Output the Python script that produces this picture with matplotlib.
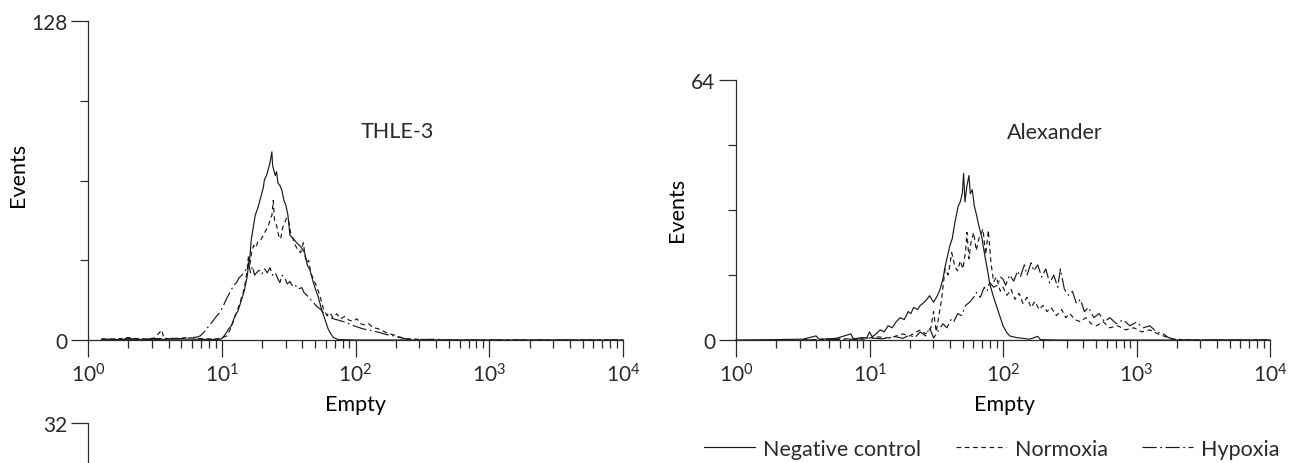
import matplotlib
matplotlib.use("Agg")
import matplotlib.pyplot as plt
import numpy as np

# histogram traces: (log10 of fluorescence, events)
thle_negative = [
    (0.10, 0), (0.30, 0.3), (0.50, 0.2), (0.70, 0.4), (0.90, 0.2), (0.98, 0.3),
    (1.00, 0.5), (1.03, 2.5), (1.05, 4.4), (1.07, 5.5), (1.10, 9.8), (1.12, 11.5),
    (1.15, 16.5), (1.17, 20), (1.19, 25.5), (1.20, 30), (1.21, 33), (1.22, 40),
    (1.235, 45), (1.25, 50), (1.27, 53), (1.29, 57), (1.31, 61), (1.32, 64.5),
    (1.335, 66), (1.35, 69), (1.36, 71), (1.375, 75.5), (1.38, 70), (1.39, 68),
    (1.40, 66), (1.41, 67.5), (1.42, 63), (1.435, 62), (1.45, 60), (1.465, 56),
    (1.48, 54), (1.495, 50), (1.51, 42), (1.53, 41), (1.56, 39), (1.59, 37.5),
    (1.62, 35), (1.64, 30), (1.66, 28), (1.685, 23), (1.70, 20.5), (1.72, 17.5),
    (1.745, 12.5), (1.77, 8.5), (1.795, 4.5), (1.815, 2.5), (1.835, 1.0),
    (1.87, 0.2), (2.0, 0), (4.0, 0),
]
thle_normoxia = [
    (0.10, 0.5), (0.20, 0.2), (0.30, 1.0), (0.40, 0.3), (0.50, 0.8), (0.55, 4.0),
    (0.57, 0.5), (0.65, 0.6), (0.75, 1.0), (0.85, 0.5), (0.95, 0.4), (1.00, 0.8),
    (1.04, 1.7), (1.07, 5), (1.09, 8), (1.11, 11), (1.13, 14), (1.16, 19),
    (1.18, 24), (1.19, 28), (1.20, 34), (1.21, 30), (1.225, 36), (1.24, 38),
    (1.255, 37), (1.27, 39.5), (1.29, 40), (1.31, 42), (1.33, 44), (1.35, 46),
    (1.365, 49), (1.375, 50), (1.385, 56), (1.395, 48), (1.41, 46), (1.425, 42),
    (1.44, 40.5), (1.455, 45), (1.47, 47), (1.485, 49), (1.50, 48), (1.515, 43),
    (1.53, 41), (1.55, 38), (1.57, 36), (1.59, 35), (1.61, 39), (1.625, 33),
    (1.635, 31), (1.65, 32), (1.665, 27), (1.685, 24.5), (1.71, 21.5),
    (1.735, 17.5), (1.76, 12.5), (1.785, 10), (1.81, 11), (1.83, 9), (1.86, 10.5),
    (1.89, 8.5), (1.92, 9.5), (1.95, 8), (1.98, 7.5), (2.01, 8.5), (2.04, 6.5),
    (2.07, 6), (2.10, 6.5), (2.13, 5), (2.17, 4.5), (2.21, 3.5), (2.25, 2.5),
    (2.29, 2), (2.33, 1.2), (2.38, 0.5), (2.45, 0.3), (2.60, 0), (4.0, 0),
]
thle_hypoxia = [
    (0.10, 0.2), (0.25, 0.6), (0.40, 0.4), (0.60, 0.7), (0.70, 0.5), (0.78, 1.0),
    (0.82, 1.2), (0.84, 1.7), (0.865, 3), (0.885, 4.4), (0.91, 6), (0.935, 7.7),
    (0.96, 9.5), (0.985, 11), (1.01, 13.5), (1.035, 16.5), (1.055, 18.5),
    (1.075, 20.5), (1.09, 22), (1.11, 23), (1.13, 25), (1.15, 26), (1.17, 27.5),
    (1.185, 28.5), (1.20, 31), (1.215, 27), (1.23, 29.5), (1.245, 26), (1.26, 27),
    (1.28, 28), (1.30, 26.5), (1.32, 28.5), (1.34, 27), (1.36, 29), (1.38, 26),
    (1.40, 27), (1.42, 24.5), (1.435, 23), (1.45, 26), (1.47, 25), (1.49, 22.5),
    (1.51, 23.5), (1.53, 21.5), (1.55, 22), (1.57, 20.5), (1.60, 21), (1.615, 19),
    (1.635, 18), (1.66, 16.5), (1.685, 15), (1.71, 13.5), (1.735, 12.5),
    (1.76, 11), (1.785, 10), (1.81, 9), (1.835, 8.5), (1.87, 8), (1.90, 7.5),
    (1.935, 7), (1.97, 6), (2.00, 5.5), (2.06, 4.4), (2.12, 3.8), (2.18, 3),
    (2.23, 2.2), (2.28, 1.7), (2.33, 1), (2.38, 0.4), (2.50, 0.2), (2.60, 0.3),
    (2.70, 0), (4.0, 0),
]

alex_negative = [
    (0.0, 0), (0.30, 0.1), (0.50, 0.2), (0.60, 1.0), (0.62, 0.2), (0.75, 0.4),
    (0.86, 1.5), (0.88, 0.3), (0.95, 0.6), (0.98, 0.5), (1.00, 2.0), (1.02, 0.8),
    (1.05, 1.5), (1.08, 2.5), (1.11, 2), (1.14, 3.5), (1.17, 3), (1.20, 4.5),
    (1.23, 5.5), (1.26, 5), (1.29, 7), (1.31, 6.5), (1.33, 8), (1.36, 7.5),
    (1.38, 8.5), (1.40, 9), (1.43, 10), (1.45, 10.9), (1.48, 9.3), (1.51, 11),
    (1.53, 12.6), (1.55, 15), (1.566, 18), (1.60, 23), (1.62, 25), (1.64, 29),
    (1.665, 33), (1.68, 34), (1.695, 36), (1.705, 41), (1.715, 34), (1.73, 38),
    (1.745, 40.5), (1.755, 36), (1.77, 37), (1.785, 33), (1.80, 31), (1.82, 28),
    (1.84, 25.5), (1.865, 20.5), (1.885, 17), (1.90, 14), (1.925, 11),
    (1.95, 8.5), (1.975, 6), (2.00, 3.5), (2.025, 2), (2.05, 1), (2.10, 0.6),
    (2.15, 0.4), (2.20, 0.2), (2.26, 0.9), (2.28, 0.1), (2.40, 0), (4.0, 0),
]
alex_normoxia = [
    (0.50, 0), (0.80, 0.3), (0.95, 0.2), (1.05, 0.8), (1.15, 0.5), (1.25, 1.5),
    (1.30, 1.0), (1.38, 2.5), (1.42, 1.5), (1.46, 3), (1.48, 7), (1.50, 2),
    (1.52, 6), (1.54, 10), (1.566, 17.5), (1.59, 16), (1.616, 21.5), (1.64, 18),
    (1.66, 17), (1.68, 19.5), (1.70, 17.5), (1.72, 22), (1.73, 26.5), (1.745, 20),
    (1.76, 24), (1.78, 26.5), (1.80, 22), (1.82, 25), (1.85, 27.3), (1.87, 21),
    (1.89, 27), (1.91, 19), (1.93, 14.3), (1.95, 15.5), (1.98, 12), (2.00, 13),
    (2.03, 11), (2.06, 12.5), (2.09, 10), (2.12, 11.5), (2.15, 9), (2.18, 10.5),
    (2.21, 8), (2.24, 9.5), (2.27, 7.5), (2.30, 8.5), (2.33, 7), (2.36, 8),
    (2.40, 6), (2.44, 7.5), (2.47, 5.5), (2.50, 6.5), (2.54, 5), (2.58, 4.5),
    (2.62, 5.5), (2.66, 4), (2.70, 3.5), (2.75, 4.5), (2.80, 3), (2.86, 3.5),
    (2.92, 2.5), (2.98, 3), (3.04, 2), (3.10, 2.5), (3.16, 1.5), (3.22, 0.8),
    (3.27, 0.2), (3.40, 0), (4.0, 0),
]
alex_hypoxia = [
    (0.50, 0), (0.90, 0.2), (1.00, 0.5), (1.10, 0.3), (1.20, 0.8), (1.25, 0.4),
    (1.30, 1.2), (1.34, 0.6), (1.38, 2.0), (1.42, 1.0), (1.45, 3), (1.48, 0.5),
    (1.52, 2.5), (1.55, 4), (1.58, 3), (1.61, 5), (1.63, 4.4), (1.66, 6.5),
    (1.69, 6), (1.72, 8.5), (1.75, 9.3), (1.78, 10.5), (1.80, 11.7), (1.83, 10.5),
    (1.86, 13), (1.88, 12), (1.90, 14.2), (1.93, 13), (1.96, 13.5), (1.98, 15.5),
    (2.00, 15), (2.02, 13.5), (2.05, 16), (2.08, 14.5), (2.11, 17), (2.13, 15.5),
    (2.16, 18.5), (2.18, 16), (2.21, 19), (2.23, 17), (2.26, 18.5), (2.29, 15.5),
    (2.32, 17.5), (2.35, 14), (2.38, 16), (2.41, 13), (2.43, 17.5), (2.46, 12.5),
    (2.49, 11), (2.52, 12), (2.55, 9), (2.58, 10), (2.61, 7), (2.64, 8),
    (2.68, 5.5), (2.72, 6.5), (2.76, 4.5), (2.80, 5.5), (2.85, 4), (2.90, 5),
    (2.95, 3.5), (3.00, 4.4), (3.05, 3), (3.10, 3.5), (3.15, 2), (3.20, 1.5),
    (3.24, 0.6), (3.28, 0.2), (3.40, 0), (4.0, 0),
]

series_labels = ["Negative control", "Normoxia", "Hypoxia"]
series_styles = ["-", (0, (4, 3)), (0, (12, 3, 1.5, 3))]

ink = "#2a2a2a"
plt.rcParams["font.family"] = ["Lato", "DejaVu Sans"]
plt.rcParams["mathtext.fontset"] = "custom"
plt.rcParams["mathtext.rm"] = "Lato"
plt.rcParams["text.color"] = ink
plt.rcParams["axes.edgecolor"] = ink
plt.rcParams["xtick.color"] = ink
plt.rcParams["ytick.color"] = ink

W, H = 1290, 464
fig = plt.figure(figsize=(12.9, 4.64), dpi=100)
label_size = 15.5
tick_size = 15


def px_axes(x0, x1, ytop, ybot):
    return fig.add_axes([x0 / W, (H - ybot) / H, (x1 - x0) / W, (ybot - ytop) / H])


def style_axes(ax, ymax, ystep):
    for s in ("top", "right"):
        ax.spines[s].set_visible(False)
    for s in ("left", "bottom"):
        ax.spines[s].set_linewidth(0.9)
    ax.set_xscale("log")
    ax.set_xlim(1, 1e4)
    ax.set_ylim(0, ymax)
    ax.set_yticks([0, ymax])
    ax.set_yticklabels(["0", str(ymax)])
    ax.set_yticks(np.arange(ystep, ymax, ystep), minor=True)
    ax.tick_params(axis="both", which="major", length=12, width=0.9, labelsize=tick_size, pad=3)
    ax.tick_params(axis="both", which="minor", length=6, width=0.9)
    ax.tick_params(axis="x", which="major", pad=4)


def draw(ax, traces):
    for tr, ls, lab in zip(traces, series_styles, series_labels):
        lx, ly = zip(*tr)
        ax.plot(10 ** np.array(lx), ly, color="#1a1a1a", lw=0.85, ls=ls, label=lab,
                clip_on=False)


ax1 = px_axes(88, 623, 22, 341)
style_axes(ax1, 128, 32)
draw(ax1, [thle_negative, thle_normoxia, thle_hypoxia])
ax1.text(0.579, 0.655, "THLE-3", transform=ax1.transAxes, ha="center", va="center",
         fontsize=label_size)
ax1.set_ylabel("Events", fontsize=label_size)
ax1.yaxis.set_label_coords(-0.112, 0.52)
ax1.set_xlabel("Empty", fontsize=label_size, va="center")
ax1.xaxis.set_label_coords(0.5, -0.2)

ax2 = px_axes(736, 1270, 81, 341)
style_axes(ax2, 64, 16)
draw(ax2, [alex_negative, alex_normoxia, alex_hypoxia])
ax2.text(0.597, 0.8, "Alexander", transform=ax2.transAxes, ha="center", va="center",
         fontsize=label_size)
ax2.set_ylabel("Events", fontsize=label_size)
ax2.yaxis.set_label_coords(-0.092, 0.504)
ax2.set_xlabel("Empty", fontsize=label_size, va="center")
ax2.xaxis.set_label_coords(0.502, -0.246)

# third panel, cut off by the figure edge
ax3 = px_axes(88, 623, 424, 744)
for s in ("top", "right", "bottom"):
    ax3.spines[s].set_visible(False)
ax3.spines["left"].set_linewidth(0.9)
ax3.set_ylim(0, 32)
ax3.set_yticks([32])
ax3.set_xticks([])
ax3.tick_params(axis="y", length=12, width=0.9, labelsize=tick_size, pad=3)

handles, labels = ax2.get_legend_handles_labels()
fig.legend(handles, labels, loc="center left", bbox_to_anchor=(704 / W, 14 / H),
           ncol=3, frameon=False, fontsize=label_size, handlelength=2.35,
           handletextpad=0.4, columnspacing=1.6, borderpad=0, borderaxespad=0)

fig.savefig("out.png", dpi=100)
